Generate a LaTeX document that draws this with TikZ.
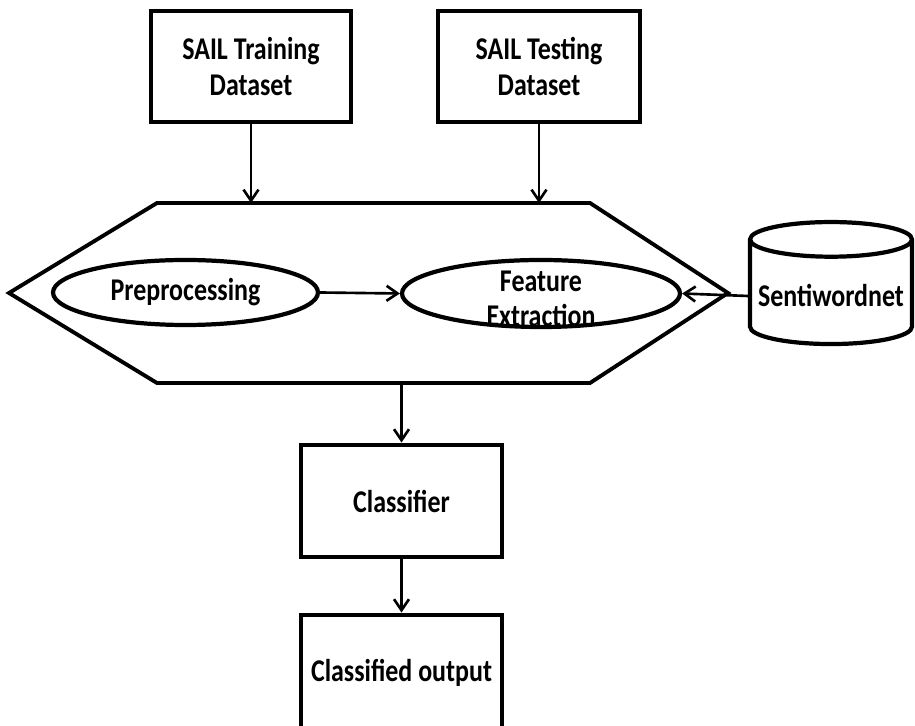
\documentclass[tikz,border=0pt]{standalone}
\usepackage{fontspec}
\setmainfont{Carlito}[FakeStretch=0.82]
\usetikzlibrary{shapes.geometric,arrows.meta}

\begin{document}
\begin{tikzpicture}[
  >={Straight Barb[length=2.2mm,width=3mm]},
  font=\bfseries\fontsize{18}{21}\selectfont,
  box/.style={draw,line width=2.8pt,minimum width=4cm,minimum height=2.22cm,align=center},
  proc/.style={draw,ellipse,line width=2.4pt,minimum width=5.3cm,minimum height=1.3cm,inner sep=0pt},
  flow/.style={->,line width=1.5pt}]
  \useasboundingbox (0,0) rectangle (18.3,14.52);
  % input datasets
  \node[box] (train) at (5.02,13.19) {SAIL Training\\Dataset};
  \node[box,minimum width=4.04cm] (test) at (10.78,13.19) {SAIL Testing\\Dataset};
  % processing hexagon
  \coordinate (hexl) at (0.18,8.66);
  \coordinate (hextl) at (3.14,10.46);
  \coordinate (hextr) at (11.8,10.46);
  \coordinate (hexr) at (14.56,8.66);
  \coordinate (hexbr) at (11.8,6.86);
  \coordinate (hexbl) at (3.14,6.86);
  \draw[line width=2.2pt,line join=miter] (hexl) -- (hextl) -- (hextr) -- (hexr) -- (hexbr) -- (hexbl) -- cycle;
  \node[proc] (prep) at (3.71,8.67) {Preprocessing};
  \node[proc,minimum width=5.56cm,minimum height=1.34cm,
    label={[align=center,font=\bfseries\fontsize{18}{20}\selectfont,yshift=-1mm]center:Feature\\Extraction}] (feat) at (10.82,8.65) {};
  % lexicon
  \node[draw,cylinder,shape border rotate=90,aspect=0.22,line width=2.4pt,
    minimum width=3.24cm,minimum height=2.44cm] (senti) at (16.62,8.60) {Sentiwordnet};
  % classification
  \node[box,minimum width=4.02cm,minimum height=2.24cm] (cls) at (8.03,4.5) {Classifier};
  \node[box,minimum width=4.02cm,minimum height=2.3cm] (out) at (8.03,1.07) {Classified output};
  % arrows
  \draw[flow] (train.south) -- (train.south |- hextl);
  \draw[flow] (test.south) -- (test.south |- hextl);
  \draw[flow] (prep.east) -- (feat.west);
  \draw[flow] (senti.west) -- (feat.east);
  \draw[flow] (cls.north |- hexbl) -- (cls.north);
  \draw[flow] (cls.south) -- (out.north);
\end{tikzpicture}
\end{document}
